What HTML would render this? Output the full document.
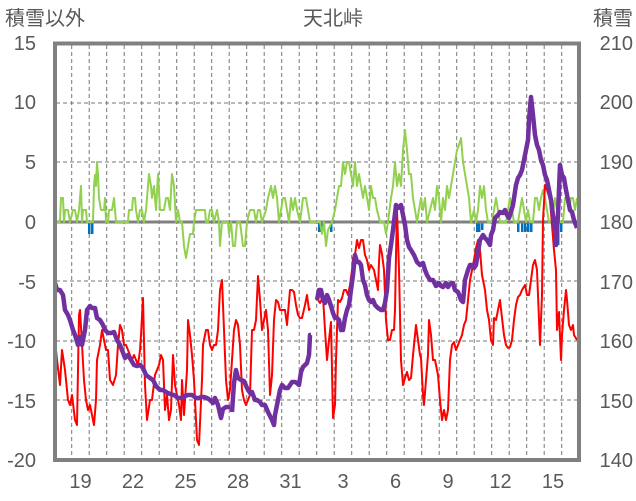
<!DOCTYPE html>
<html><head><meta charset="utf-8"><style>
html,body{margin:0;padding:0;background:#fff;}
svg{display:block;font-family:"Liberation Sans","Noto Sans CJK JP",sans-serif;}
</style></head><body>
<svg id="s" width="636" height="501" viewBox="0 0 636 501" xmlns="http://www.w3.org/2000/svg">
<rect width="636" height="501" fill="#fff"/>
<g fill="#595959" font-size="20">
<text x="5" y="25">積雪以外</text>
<text x="333" y="25" text-anchor="middle">天北峠</text>
<text x="633" y="25" text-anchor="end">積雪</text>
<g text-anchor="end">
<text x="36" y="50">15</text><text x="36" y="109">10</text><text x="36" y="169">5</text>
<text x="36" y="229">0</text><text x="36" y="289">-5</text><text x="36" y="348">-10</text>
<text x="36" y="408">-15</text><text x="36" y="467">-20</text>
<text x="633" y="50">210</text><text x="633" y="109">200</text><text x="633" y="169">190</text>
<text x="633" y="229">180</text><text x="633" y="289">170</text><text x="633" y="348">160</text>
<text x="633" y="408">150</text><text x="633" y="467">140</text>
</g>
<g text-anchor="middle">
<text x="80.5" y="488">19</text><text x="133" y="488">22</text><text x="185.5" y="488">25</text>
<text x="238" y="488">28</text><text x="290.5" y="488">31</text><text x="343" y="488">3</text>
<text x="395.5" y="488">6</text><text x="448" y="488">9</text><text x="500.5" y="488">12</text>
<text x="553" y="488">15</text>
</g>
</g>
<g id="grid" stroke="#777" stroke-width="1" stroke-dasharray="4,3"></g>
<g id="bars" fill="#0070c0"></g>
<line x1="55" y1="222" x2="579" y2="222" stroke="#808080" stroke-width="3"/>
<polyline id="green" fill="none" stroke="#92d050" stroke-width="2" stroke-linejoin="round"/>
<polyline id="red" fill="none" stroke="#ff0000" stroke-width="2" stroke-linejoin="round"/>
<polyline id="red2" fill="none" stroke="#ff0000" stroke-width="2" stroke-linejoin="round"/>
<polyline id="pur" fill="none" stroke="#7030a0" stroke-width="4.5" stroke-linejoin="round"/>
<polyline id="pur2" fill="none" stroke="#7030a0" stroke-width="4.5" stroke-linejoin="round"/>
<polyline id="pur3" fill="none" stroke="#7030a0" stroke-width="4.5" stroke-linejoin="round"/>
<rect x="55" y="43.5" width="524" height="416.5" fill="none" stroke="#808080" stroke-width="4"/>
</svg>
<script>
var ns="http://www.w3.org/2000/svg";
var g=document.getElementById('grid');
function ln(x1,y1,x2,y2){var l=document.createElementNS(ns,'line');l.setAttribute('x1',x1);l.setAttribute('y1',y1);l.setAttribute('x2',x2);l.setAttribute('y2',y2);g.appendChild(l);}
for(var x=71.7;x<578;x+=17.5)ln(x,45,x,459);
[103,162,281,341,400].forEach(function(y){ln(56,y,578,y);});
var b=document.getElementById('bars');
[[88,234],[91,234],[318,232],[320,232],[330,232],[476,232],[478,232],[481,230],[493,230],[517,232],[521,232],[524,232],[527,232],[530,232],[555,245],[557,245],[560,232]].forEach(function(p){var r=document.createElementNS(ns,'rect');r.setAttribute('x',p[0]);r.setAttribute('y',223);r.setAttribute('width',2.5);r.setAttribute('height',p[1]-223);b.appendChild(r);});
function set(id,a){document.getElementById(id).setAttribute('points',a.map(function(p){return p.join(',')}).join(' '));}
set('green',[[55,222],[60,222],[61,198],[63,198],[64,222],[65,210],[68,210],[70,222],[73,210],[75,210],[77,222],[79,210],[81,186],[82,222],[83,210],[86,210],[87,222],[93,222],[94,186],[95,175],[96,186],[97,162],[98,175],[99,198],[101,210],[104,210],[105,198],[106,222],[108,222],[109,210],[112,210],[114,198],[115,210],[116,222],[128,222],[129,210],[132,210],[133,198],[135,198],[136,210],[138,222],[140,210],[142,210],[144,222],[146,210],[148,186],[149,174],[151,186],[152,198],[154,186],[156,210],[158,174],[160,210],[164,210],[166,198],[168,198],[170,210],[172,174],[174,186],[176,222],[178,210],[180,222],[182,222],[184,246],[186,258],[188,246],[190,234],[193,234],[194,222],[196,210],[205,210],[206,222],[208,222],[210,210],[212,210],[214,222],[217,210],[219,222],[220,246],[222,222],[228,222],[229,234],[231,222],[233,246],[235,246],[237,222],[240,222],[243,246],[245,246],[247,222],[250,210],[254,210],[256,222],[258,210],[260,210],[262,222],[266,210],[268,198],[271,186],[273,198],[275,186],[277,198],[279,222],[281,210],[283,198],[285,198],[287,210],[289,222],[291,198],[293,210],[295,198],[297,210],[300,222],[303,198],[306,198],[308,210],[310,222],[320,222],[322,234],[324,222],[326,246],[328,230],[332,222],[335,210],[337,198],[339,186],[341,186],[343,162],[345,174],[347,162],[349,162],[351,174],[353,186],[355,162],[357,186],[359,174],[361,186],[363,198],[365,186],[367,198],[369,210],[371,186],[373,198],[375,198],[377,210],[380,222],[384,222],[386,234],[388,222],[391,198],[393,186],[395,162],[397,186],[399,174],[401,186],[403,150],[405,130],[407,150],[409,174],[411,174],[413,198],[415,210],[417,222],[419,210],[421,198],[423,210],[425,198],[427,222],[430,210],[433,198],[435,210],[437,186],[439,198],[441,222],[443,198],[445,210],[447,186],[449,198],[451,186],[453,174],[455,162],[457,150],[459,145],[461,138],[463,162],[465,174],[467,186],[469,198],[471,222],[474,210],[476,222],[478,210],[480,186],[482,198],[484,186],[486,210],[488,222],[492,222],[494,210],[496,198],[498,210],[500,222],[506,222],[508,210],[510,198],[512,210],[514,222],[518,222],[520,210],[522,198],[524,210],[526,222],[528,210],[530,222],[533,222],[535,198],[537,198],[539,210],[541,198],[543,190],[545,198],[547,210],[549,222],[552,222],[555,198],[557,210],[559,222],[563,222],[565,198],[567,198],[569,210],[571,198],[573,198],[575,210],[577,198]]);
set('red',[[55,340],[57,360],[60,385],[62,350],[65,370],[68,400],[70,405],[72,395],[75,420],[77,425],[79,315],[80,310],[82,345],[84,380],[86,400],[88,410],[90,405],[92,415],[94,425],[96,400],[97,360],[100,345],[102,330],[104,340],[106,350],[108,350],[110,380],[113,385],[116,375],[118,345],[120,325],[122,330],[124,345],[126,345],[128,350],[130,355],[132,360],[134,355],[136,360],[138,365],[140,350],[141,335],[143,298],[145,385],[147,420],[150,400],[152,400],[155,375],[157,370],[159,365],[161,355],[163,360],[165,410],[167,395],[169,420],[171,410],[173,355],[175,385],[177,395],[179,405],[181,420],[182,380],[184,415],[185,400],[187,370],[188,320],[190,335],[192,355],[194,380],[197,440],[199,445],[202,380],[203,345],[206,330],[208,330],[210,345],[212,350],[214,345],[216,345],[218,330],[220,290],[222,280],[224,330],[226,380],[228,400],[230,390],[232,360],[234,330],[236,320],[238,325],[240,345],[242,390],[244,400],[246,405],[248,400],[250,395],[252,330],[254,330],[256,320],[258,276],[260,300],[262,330],[264,320],[266,310],[268,330],[270,395],[272,375],[274,320],[276,300],[278,302],[280,310],[282,310],[285,310],[287,325],[290,290],[292,290],[294,292],[296,305],[298,315],[300,318],[302,318],[305,305],[307,295],[309,310],[310,308]]);
set('red2',[[318,300],[320,303],[323,297],[325,330],[327,360],[329,340],[331,322],[333,418],[335,405],[336,360],[338,300],[340,302],[342,298],[344,290],[346,290],[348,295],[350,285],[352,270],[353,258],[355,255],[357,240],[359,248],[361,240],[363,240],[365,255],[367,260],[369,270],[371,265],[374,270],[376,280],[378,290],[379,262],[380,245],[382,254],[384,270],[386,320],[388,340],[390,340],[392,330],[394,330],[395,310],[396,255],[397,210],[399,270],[401,360],[403,385],[405,378],[407,372],[409,380],[411,378],[413,355],[415,335],[416,325],[418,340],[420,355],[421,358],[423,395],[424,405],[426,380],[428,355],[429,320],[431,335],[433,360],[435,360],[438,375],[440,400],[442,420],[444,410],[446,420],[448,410],[450,360],[452,345],[454,342],[456,350],[458,345],[460,340],[462,335],[464,325],[466,320],[468,300],[470,280],[472,270],[474,260],[476,248],[478,240],[480,250],[482,275],[485,290],[487,310],[489,320],[491,340],[493,345],[494,318],[496,320],[498,310],[500,300],[502,318],[504,335],[506,345],[508,348],[510,347],[512,340],[514,320],[516,305],[518,297],[520,295],[522,290],[525,285],[527,295],[529,295],[531,280],[533,265],[535,260],[537,270],[540,345],[542,295],[543,220],[545,185],[547,190],[550,200],[552,225],[554,250],[556,270],[557,330],[559,312],[561,360],[562,335],[564,310],[566,290],[567,300],[569,325],[571,330],[573,325],[574,335],[577,340]]);
set('pur',[[55,283],[57,290],[60,290],[63,295],[65,310],[68,315],[70,320],[73,330],[75,335],[78,345],[80,337],[82,345],[85,330],[87,310],[90,306],[92,308],[95,308],[97,318],[100,320],[103,325],[105,330],[108,333],[111,333],[114,332],[117,340],[120,345],[122,350],[125,358],[128,355],[131,360],[134,365],[137,366],[140,365],[143,368],[146,375],[150,378],[153,380],[156,386],[160,390],[163,390],[166,392],[170,394],[174,395],[178,398],[182,398],[185,396],[188,395],[192,395],[196,398],[199,398],[201,397],[204,397],[207,398],[210,400],[213,403],[215,398],[218,405],[221,418],[223,409],[226,407],[230,407]]);
set('pur2',[[232,412],[234,383],[236,370],[238,378],[241,380],[244,381],[247,388],[250,393],[252,392],[255,400],[257,400],[260,402],[262,405],[265,405],[268,412],[272,420],[274,425],[275,415],[277,405],[280,390],[282,385],[285,388],[288,388],[290,385],[292,382],[295,382],[297,383],[299,385],[301,372],[303,367],[305,365],[307,363],[309,355],[310,335],[311,335]]);
set('pur3',[[317,300],[319,290],[321,290],[323,300],[325,303],[327,295],[329,300],[331,306],[333,313],[335,318],[337,318],[339,320],[341,330],[343,330],[345,318],[347,310],[349,305],[351,290],[353,275],[355,255],[357,262],[359,262],[361,265],[363,280],[365,285],[367,295],[369,300],[371,302],[373,300],[375,305],[378,308],[381,310],[383,310],[385,303],[387,290],[389,258],[391,245],[393,230],[396,205],[398,208],[401,205],[403,215],[405,225],[407,240],[409,247],[411,250],[414,255],[417,262],[420,265],[423,263],[425,270],[427,275],[430,280],[433,280],[436,286],[439,283],[441,286],[443,287],[446,283],[448,287],[450,284],[453,283],[455,290],[458,292],[461,300],[463,302],[465,280],[468,270],[470,265],[472,265],[474,268],[476,265],[478,252],[480,240],[483,235],[485,238],[487,240],[490,245],[491,235],[493,230],[495,218],[498,215],[500,212],[503,213],[505,210],[507,215],[509,218],[511,212],[513,205],[516,185],[518,178],[520,175],[522,170],[524,160],[526,150],[528,140],[529,120],[531,97],[533,115],[535,135],[537,145],[539,150],[541,160],[543,165],[545,175],[547,180],[549,190],[551,200],[553,215],[555,230],[556,245],[558,215],[560,165],[562,175],[564,178],[566,190],[568,200],[570,210],[572,212],[574,220],[577,228]]);
</script>
</body></html>
